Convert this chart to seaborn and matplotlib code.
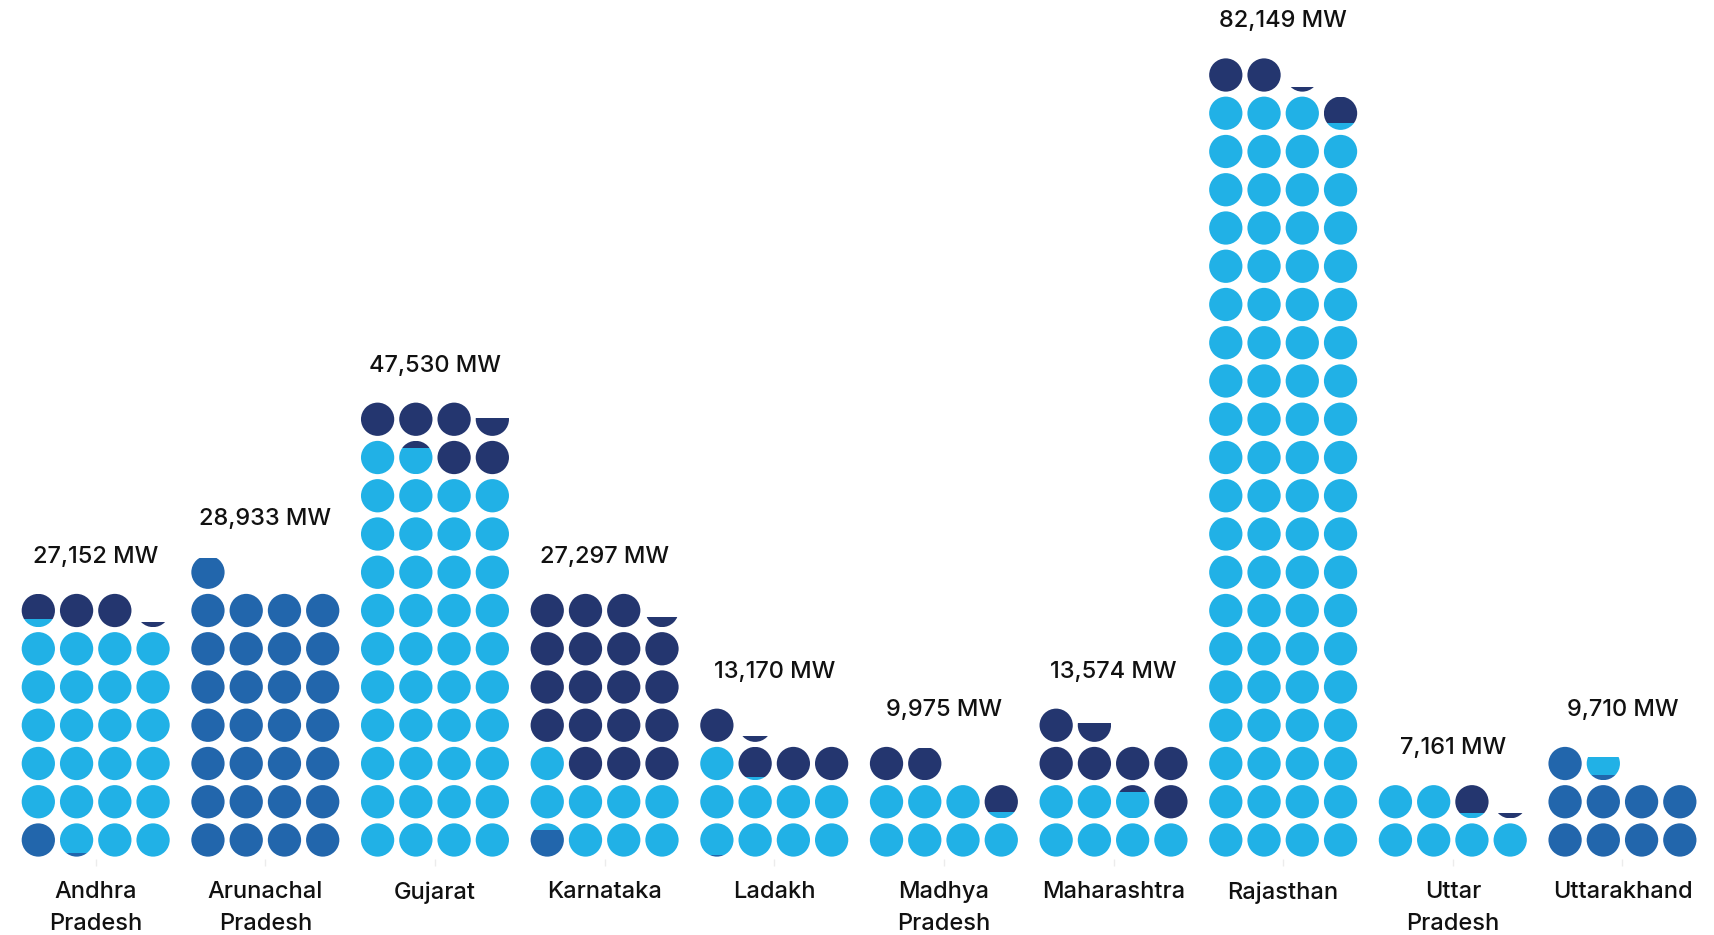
import numpy as np
import pandas as pd
import matplotlib
matplotlib.use("Agg")
import matplotlib.pyplot as plt
from matplotlib.patches import Circle, Rectangle
import seaborn as sns

# ---------------- data ----------------
states = ["Andhra\nPradesh", "Arunachal\nPradesh", "Gujarat", "Karnataka", "Ladakh",
          "Madhya\nPradesh", "Maharashtra", "Rajasthan", "Uttar\nPradesh", "Uttarakhand"]
totals = [27152, 28933, 47530, 27297, 13170, 9975, 13574, 82149, 7161, 9710]
hydro = [1100, 28933, 0, 800, 40, 0, 0, 0, 0, 9150]
solar = [23150, 0, 41800, 8200, 9060, 7200, 6800, 79200, 6150, 560]
wind = [2902, 0, 5730, 18297, 4070, 2775, 6774, 2949, 1011, 0]

categories = ["Hydro", "Solar", "Wind"]
palette = {"Hydro": "#2266AC", "Solar": "#21B1E6", "Wind": "#24366F"}
MW_PER_DOT = 1000
N_COLS = 4

# ---------------- layout constants ----------------
W, H, DPI = 1715, 935, 100
PX_PER_UNIT = 38.25
GROUP_GAP = 4.435
DOT_D = 0.87
R = DOT_D / 2
X0_PX, Y0_PX = 95.7, 95.0

sns.set_theme(style="white")
plt.rcParams["font.family"] = ["Inter", "DejaVu Sans"]

fig = plt.figure(figsize=(W / DPI, H / DPI), dpi=DPI)
ax = fig.add_axes([0, 0, 1, 1])
ax.set_xlim(-X0_PX / PX_PER_UNIT, (W - X0_PX) / PX_PER_UNIT)
ax.set_ylim(-Y0_PX / PX_PER_UNIT, (H - Y0_PX) / PX_PER_UNIT)

full_rows = []
partials = []
for i, st in enumerate(states):
    vals = [hydro[i] / MW_PER_DOT, solar[i] / MW_PER_DOT, wind[i] / MW_PER_DOT]
    starts = np.concatenate([[0], np.cumsum(vals)[:-1]])
    ends = np.cumsum(vals)
    n_dots = int(np.ceil(totals[i] / MW_PER_DOT - 1e-9))
    for k in range(n_dots):
        col, row = k % N_COLS, k // N_COLS
        x = i * GROUP_GAP + (col - (N_COLS - 1) / 2)
        y = row
        for c, s, e in zip(categories, starts, ends):
            a = max(s, k) - k
            b = min(e, k + 1) - k
            if b <= a + 1e-9:
                continue
            if a <= 1e-9 and b >= 1 - 1e-9:
                full_rows.append({"x": x, "y": y, "cat": c})
            else:
                partials.append((x, y, a, b, c))

df = pd.DataFrame(full_rows)
diam_pt = DOT_D * PX_PER_UNIT * 72 / DPI
sns.scatterplot(data=df, x="x", y="y", hue="cat", palette=palette, s=diam_pt ** 2,
                linewidth=0, legend=False, ax=ax, zorder=3)

for x, y, a, b, c in partials:
    circ = Circle((x, y), R, facecolor=palette[c], edgecolor="none", zorder=3)
    ax.add_patch(circ)
    clip = Rectangle((x - R - 0.01, y - R + a * DOT_D), DOT_D + 0.02, (b - a) * DOT_D,
                     transform=ax.transData, facecolor="none", edgecolor="none")
    circ.set_clip_path(clip)

# labels
for i, st in enumerate(states):
    n_dots = int(np.ceil(totals[i] / MW_PER_DOT - 1e-9))
    top_row = (n_dots - 1) // N_COLS
    cx = i * GROUP_GAP
    ax.text(cx, top_row + 1.4, f"{totals[i]:,} MW", ha="center", va="center",
            fontsize=17, fontweight="medium", color="#111111")
    two = "\n" in st
    ax.text(cx, -1.78 if two else -1.37, st, ha="center", va="center",
            fontsize=17, fontweight="medium", color="#111111", linespacing=1.55)

# faint ticks under each group
ax.set_xticks([i * GROUP_GAP for i in range(len(states))])
ax.set_xticklabels([])
ax.set_yticks([])
ax.spines["bottom"].set_position(("data", -0.5))
for s in ["top", "right", "left", "bottom"]:
    ax.spines[s].set_visible(False)
ax.tick_params(axis="x", direction="out", length=5, width=1, color="#ececec", bottom=True)
ax.set_xlabel("")
ax.set_ylabel("")

fig.savefig("out.png", dpi=DPI, facecolor="white")
